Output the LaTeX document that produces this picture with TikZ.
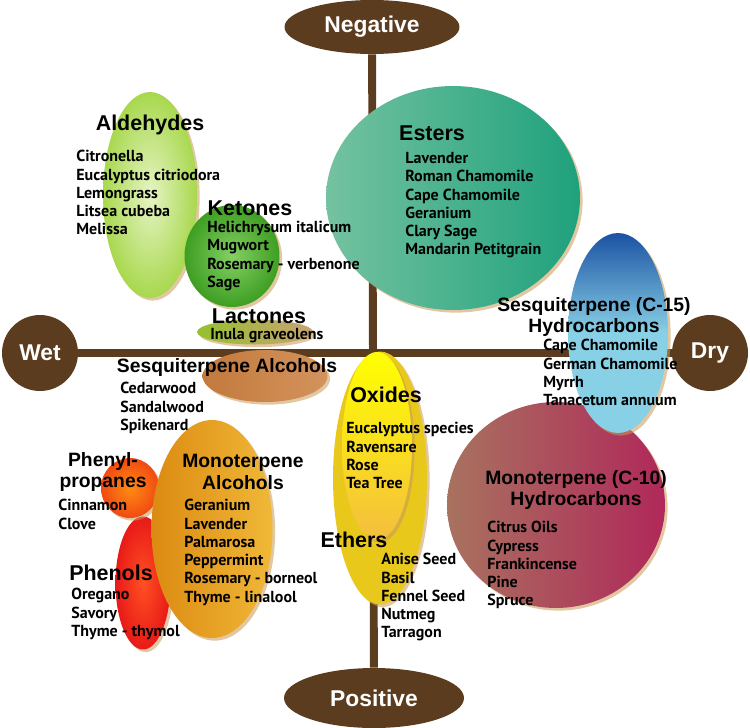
\documentclass[tikz,border=0pt]{standalone}
\usepackage{fontspec}
\setmainfont{Liberation Sans}
\newfontfamily\listfont{PT Sans}
\usetikzlibrary{shapes.geometric, backgrounds, shadows}
\definecolor{axisBrown}{HTML}{5B3C1E}
\definecolor{shadowTan}{HTML}{C89A55}
\definecolor{esterL}{HTML}{74C2A0}
\definecolor{esterR}{HTML}{1FA17C}
\definecolor{sesqTop}{HTML}{1B52A3}
\definecolor{sesqLow}{HTML}{88D0E6}
\definecolor{monoL}{HTML}{A8725F}
\definecolor{monoR}{HTML}{B0285A}
\definecolor{aldIn}{HTML}{E6F4C4}
\definecolor{aldOut}{HTML}{A8D84E}
\definecolor{ketIn}{HTML}{84D064}
\definecolor{ketOut}{HTML}{3E9E22}
\definecolor{lacL}{HTML}{96C02E}
\definecolor{lacR}{HTML}{C9A272}
\definecolor{sesqAlc}{HTML}{CC8040}
\definecolor{etherY}{HTML}{E9C81C}
\definecolor{oxTop}{HTML}{FFFF00}
\definecolor{oxLow}{HTML}{F4BE3E}
\definecolor{malcL}{HTML}{DC8A12}
\definecolor{malcR}{HTML}{F0B838}
\definecolor{phpIn}{HTML}{FF8C12}
\definecolor{phpOut}{HTML}{F04A12}
\definecolor{phenIn}{HTML}{FF5022}
\definecolor{phenOut}{HTML}{E81A18}
\tikzset{
  blob/.style={ellipse, inner sep=0pt,
               drop shadow={shadow xshift=1.5pt, shadow yshift=-1.5pt,
                            fill=shadowTan, opacity=.55}},
  pole/.style={ellipse, inner sep=0pt, fill=axisBrown, text=white,
               font=\bfseries\fontsize{13}{15}\selectfont},
  axisline/.style={axisBrown, line width=4.5pt},
  head/.style={inner sep=0pt, align=center,
               font=\bfseries\fontsize{12.2}{12.6}\selectfont},
  headsmall/.style={head, font=\bfseries\fontsize{11}{12.5}\selectfont},
  items/.style={inner sep=0pt, align=left, anchor=north west,
                font=\listfont\bfseries\fontsize{9.1}{10.4}\selectfont},
}
\begin{document}
\begin{tikzpicture}[x=0.02cm, y=-0.02cm]
  \useasboundingbox (0,0) rectangle (750,727);

  % poles of the two axes
  \node[pole, minimum width=3.5cm, minimum height=1.08cm] (neg) at (372,27) {Negative};
  \node[pole, minimum width=3.6cm, minimum height=1.2cm] (pos) at (374,698) {Positive};
  \node[pole, minimum width=1.52cm, minimum height=1.52cm] (wet) at (40,353) {Wet};
  \node[pole, minimum width=1.52cm, minimum height=1.52cm] (dry) at (710,353) {Dry};
  \begin{scope}[on background layer]
    \draw[axisline] (neg) -- (pos);
    \draw[axisline] (wet) -- (dry);
  \end{scope}

  % chemical families
  \node[blob, left color=esterL, right color=esterR,
        minimum width=5.08cm, minimum height=4.48cm] (esters) at (453,198) {};
  \node[blob, inner color=aldIn, outer color=aldOut,
        minimum width=1.88cm, minimum height=4.12cm] (aldehydes) at (150,195) {};
  \node[blob, inner color=ketIn, outer color=ketOut,
        minimum width=1.9cm, minimum height=2.04cm] (ketones) at (232,256) {};
  \node[blob, left color=lacL, right color=lacR,
        minimum width=2.32cm, minimum height=0.5cm] (lactones) at (255,332) {};
  \node[blob, left color=sesqAlc!95!black, right color=sesqAlc!85!white,
        minimum width=2.5cm, minimum height=1.04cm] (sesqalc) at (265,376) {};
  \node[blob, left color=monoL, right color=monoR,
        minimum width=4.36cm, minimum height=4.12cm] (monohyd) at (556,505) {};
  \node[blob, top color=sesqTop, bottom color=sesqLow, middle color=sesqLow,
        minimum width=2.0cm, minimum height=4.0cm] (sesqhyd) at (618,333) {};
  \node[blob, fill=etherY,
        minimum width=1.88cm, minimum height=5.06cm] (ethers) at (380,478) {};
  \node[blob, top color=oxTop, bottom color=oxLow,
        minimum width=1.4cm, minimum height=3.76cm] (oxides) at (377,446) {};
  \node[blob, inner color=phenIn, outer color=phenOut,
        minimum width=1.1cm, minimum height=2.66cm] (phenols) at (143,583) {};
  \node[blob, inner color=phpIn, outer color=phpOut,
        minimum width=1.16cm, minimum height=1.2cm] (phenylprop) at (130,488) {};
  \node[blob, left color=malcL, right color=malcR,
        minimum width=2.42cm, minimum height=4.36cm] (monoalc) at (212,529) {};

  % headings
  \node[head] (aldT) at (150,125) {Aldehydes};
  \node[head] (ketT) at (250,208) {Ketones};
  \node[head] (lacT) at (259,316) {Lactones};
  \node[head] (estT) at (432,133) {Esters};
  \node[headsmall] (sqhT) at (594,317) {Sesquiterpene (C-15)\\Hydrocarbons};
  \node[headsmall] (mnhT) at (576,490) {Monoterpene (C-10)\\Hydrocarbons};
  \node[headsmall] (sqaT) at (227,367) {Sesquiterpene Alcohols};
  \node[head] (oxT) at (386,395) {Oxides};
  \node[head] (ethT) at (354,540) {Ethers};
  \node[headsmall] (malT) at (243,472) {Monoterpene\\Alcohols};
  \node[headsmall] (phpT) at (103,472) {Phenyl-\\propanes};
  \node[head] (phnT) at (111,573) {Phenols};

  % oils
  \node[items] (aldL) at (76,150) {Citronella\\Eucalyptus citriodora\\Lemongrass\\Litsea cubeba\\Melissa};
  \node[items] (ketL) at (207,221) {Helichrysum italicum\\Mugwort\\Rosemary - verbenone\\Sage};
  \node[items] (lacL) at (210,328) {Inula graveolens};
  \node[items] (estL) at (405,152) {Lavender\\Roman Chamomile\\Cape Chamomile\\Geranium\\Clary Sage\\Mandarin Petitgrain};
  \node[items] (sqhL) at (543,339) {Cape Chamomile\\German Chamomile\\Myrrh\\Tanacetum annuum};
  \node[items] (mnhL) at (487,521) {Citrus Oils\\Cypress\\Frankincense\\Pine\\Spruce};
  \node[items] (sqaL) at (120,382) {Cedarwood\\Sandalwood\\Spikenard};
  \node[items] (oxL) at (346,422) {Eucalyptus species\\Ravensare\\Rose\\Tea Tree};
  \node[items] (ethL) at (381,553) {Anise Seed\\Basil\\Fennel Seed\\Nutmeg\\Tarragon};
  \node[items] (malL) at (184,499) {Geranium\\Lavender\\Palmarosa\\Peppermint\\Rosemary - borneol\\Thyme - linalool};
  \node[items] (phpL) at (58,499) {Cinnamon\\Clove};
  \node[items] (phnL) at (71,588) {Oregano\\Savory\\Thyme - thymol};
\end{tikzpicture}
\end{document}
